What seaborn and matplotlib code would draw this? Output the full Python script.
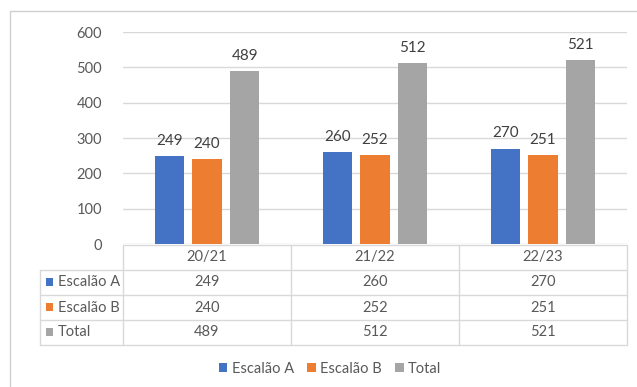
import matplotlib
matplotlib.use("Agg")
import matplotlib.pyplot as plt
from matplotlib.patches import Rectangle
import seaborn as sns
import pandas as pd

# Data
seasons = ["20/21", "21/22", "22/23"]
series = ["Escalão A", "Escalão B", "Total"]
escalao_a = [249, 260, 270]
escalao_b = [240, 252, 251]
total = [489, 512, 521]
y_ticks = [0, 100, 200, 300, 400, 500, 600]

colors = ["#4472C4", "#ED7D31", "#A5A5A5"]
text_col = "#595959"
grid_col = "#D9D9D9"

df = pd.DataFrame({
    "season": seasons * 3,
    "series": [s for s in series for _ in seasons],
    "value": escalao_a + escalao_b + total,
})
table_rows = [escalao_a, escalao_b, total]

sns.set_style("white")
plt.rcParams["font.family"] = ["Lato", "DejaVu Sans"]

W, H = 637, 387
fig = plt.figure(figsize=(W / 100, H / 100), dpi=100)

def fx(px):
    return px / W

def fy(py):
    return 1 - py / H

# Chart area frame
fig.add_artist(Rectangle((fx(10), fy(400)), fx(700), fy(11) - fy(400),
                         transform=fig.transFigure, fill=False,
                         edgecolor="#D0D0D0", linewidth=1.0))

# Plot area
ax_left, ax_right, ax_top, ax_bottom = 123, 627, 32, 244
ax = fig.add_axes([fx(ax_left), fy(ax_bottom), fx(ax_right - ax_left), fy(ax_top) - fy(ax_bottom)])
sns.barplot(data=df, x="season", y="value", hue="series", order=seasons,
            hue_order=series, palette=colors, width=0.672, gap=0.22,
            saturation=1, ax=ax, legend=False, edgecolor="none")
ax.set_xlim(-0.5, 2.5)
ax.set_ylim(0, 600)
ax.set_yticks(y_ticks)
ax.set_yticklabels([str(t) for t in y_ticks], color=text_col, fontsize=10.5)
ax.tick_params(axis="y", length=0, pad=15)
ax.set_xticks([])
ax.set_xlabel("")
ax.set_ylabel("")
for s in ax.spines.values():
    s.set_visible(False)
ax.yaxis.grid(True, color=grid_col, linewidth=1)
ax.set_axisbelow(True)
for cont in ax.containers:
    ax.bar_label(cont, padding=6, color="#404040", fontsize=11)

# Data table below the axis, sharing the category scale
tab_top, tab_bottom = 245, 345
tab = fig.add_axes([fx(ax_left), fy(tab_bottom), fx(ax_right - ax_left), fy(tab_top) - fy(tab_bottom)])
tab.set_xlim(-0.5, 2.5)
tab.set_ylim(4, 0)
tab.axis("off")
label_left = -0.5 - (ax_left - 40) / ((ax_right - ax_left) / 3)
line_kw = dict(color=grid_col, linewidth=1.0, clip_on=False)
# horizontal rules
tab.plot([-0.5, 2.5], [0, 0], **line_kw)
for r in range(1, 5):
    tab.plot([label_left, 2.5], [r, r], **line_kw)
# vertical rules
for xb in [-0.5, 0.5, 1.5, 2.5]:
    tab.plot([xb, xb], [0, 4], **line_kw)
tab.plot([label_left, label_left], [1, 4], **line_kw)
# header and values
for i, s in enumerate(seasons):
    tab.text(i, 0.5, s, ha="center", va="center", color=text_col, fontsize=10.5)
for r, (name, vals) in enumerate(zip(series, table_rows), start=1):
    for i, v in enumerate(vals):
        tab.text(i, r + 0.5, str(v), ha="center", va="center", color=text_col, fontsize=10.5)
    tab.text(label_left + 0.105, r + 0.5, name, ha="left", va="center",
             color=text_col, fontsize=10.5, clip_on=False)
    tab.add_patch(Rectangle((label_left + 0.036, r + 0.32), 0.042, 0.32,
                            facecolor=colors[r - 1], edgecolor="none", clip_on=False))

# Legend
handles = [Rectangle((0, 0), 1, 1, facecolor=c, edgecolor="none") for c in colors]
fig.legend(handles, series, loc="center", bbox_to_anchor=(fx(330), fy(369)),
           ncol=3, frameon=False, fontsize=10.5, labelcolor=text_col,
           handlelength=0.6, handleheight=0.6, handletextpad=0.3, columnspacing=0.9)

fig.savefig("out.png", dpi=100)
